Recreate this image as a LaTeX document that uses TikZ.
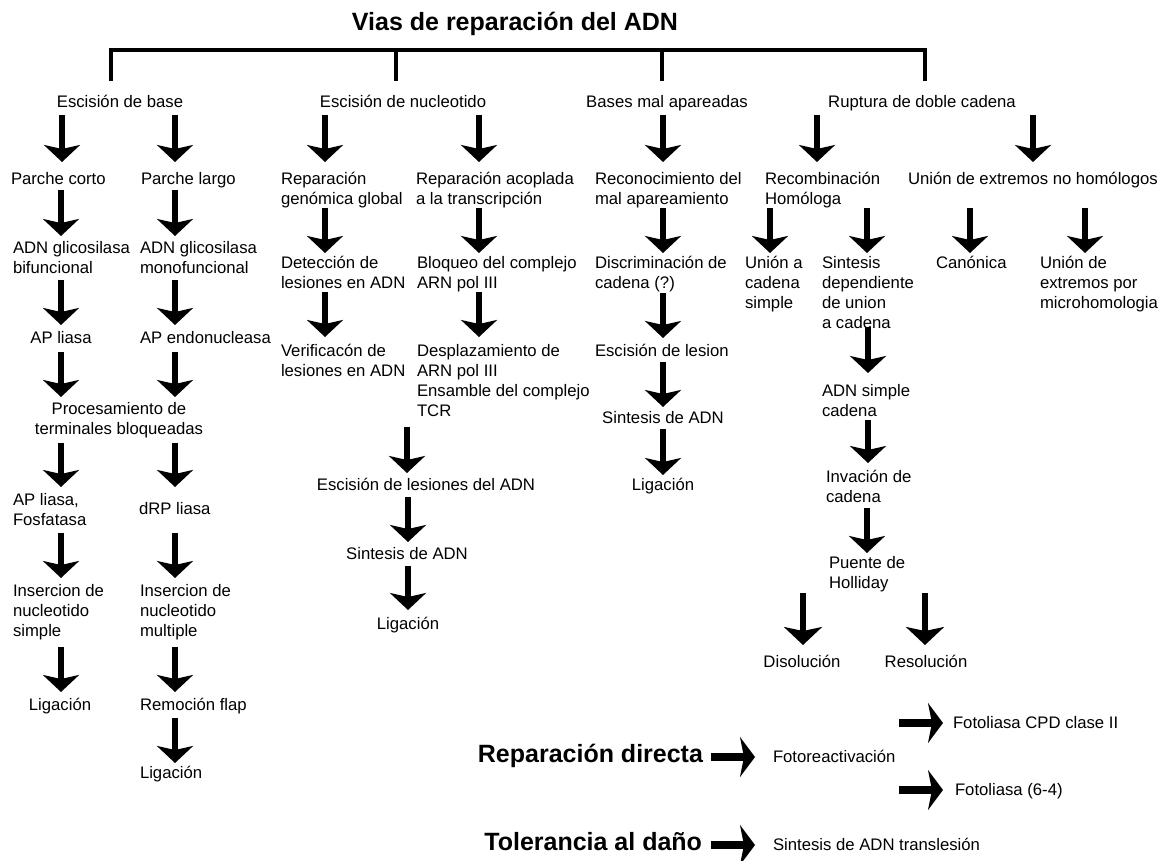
\documentclass[tikz,border=0pt]{standalone}
\usepackage{fontspec}
\setmainfont{Liberation Sans}
\usetikzlibrary{arrows.meta}
\newcommand\fsz{\fontsize{16.7}{20}\selectfont}
\newcommand\st{\rule{0pt}{12pt}}
\tikzset{
  txt/.style={inner sep=0pt, outer sep=0pt, font=\fsz, align=left, anchor=north west},
  ctxt/.style={txt, align=center, anchor=north},
  big/.style={inner sep=0pt, outer sep=0pt, font=\fontsize{25}{30}\selectfont\bfseries},
  darr/.style={line width=5.5pt, -{Stealth[length=17pt,width=36pt,inset=4pt]}},
  darrL/.style={line width=6pt, -{Stealth[length=18pt,width=38pt,inset=4pt]}},
  harr/.style={line width=8pt, -{Stealth[length=15pt,width=40pt,inset=4pt]}},
  brk/.style={line width=4.5pt},
}
\begin{document}
\begin{tikzpicture}[x=1pt,y=-1pt]
\useasboundingbox (0,0) rectangle (1167,861);
\fill[white] (0,0) rectangle (1167,861);

% title and bracket
\node[big, anchor=base] (title) at (515,31) {Vias de reparación del ADN};
\draw[brk] (111,81) -- (111,50) -- (925,50) -- (925,81);
\draw[brk] (396,50) -- (396,81);
\draw[brk] (662,50) -- (662,81);

% row 1
\node[ctxt] (eb) at (120,95) {\st Escisión de base};
\node[ctxt] (en) at (403,95) {\st Escisión de nucleotido};
\node[ctxt] (bm) at (667,95) {\st Bases mal apareadas};
\node[ctxt] (rd) at (922,95) {\st Ruptura de doble cadena};
\foreach \x in {62,175,325,479,663,817,1033} \draw[darr] (\x,115) -- (\x,162);

% row 2
\node[txt] (pc) at (11,172) {\st Parche corto};
\node[txt] (pl) at (141,172) {\st Parche largo};
\node[txt] (rgg) at (281,172) {\st Reparación\\genómica global};
\node[txt] (rat) at (416,172) {\st Reparación acoplada\\a la transcripción};
\node[txt] (rma) at (595,172) {\st Reconocimiento del\\mal apareamiento};
\node[txt] (rh) at (765,172) {\st Recombinación\\Homóloga};
\node[txt] (nh) at (908,172) {\st Unión de extremos no homólogos};
\foreach \x in {61,175} \draw[darr] (\x,190) -- (\x,236);
\foreach \x in {325,479,663,770,867,970,1085} \draw[darr] (\x,208) -- (\x,253);

% row 3
\node[txt] (ag1) at (13,241) {\st ADN glicosilasa\\bifuncional};
\node[txt] (ag2) at (140,241) {\st ADN glicosilasa\\monofuncional};
\node[txt] (dl) at (281,256) {\st Detección de\\lesiones en ADN};
\node[txt] (bc) at (417,256) {\st Bloqueo del complejo\\ARN pol III};
\node[txt] (dc) at (595,256) {\st Discriminación de\\cadena (?)};
\node[txt] (uc) at (745,256) {\st Unión a\\cadena\\simple};
\node[txt] (sd) at (822,256) {\st Sintesis\\dependiente\\de union\\a cadena};
\node[txt] (can) at (936,256) {\st Canónica};
\node[txt] (mh) at (1040,256) {\st Unión de\\extremos por\\microhomologia};
\foreach \x in {61,175} \draw[darr] (\x,280) -- (\x,325);
\foreach \x in {325,479} \draw[darr] (\x,292) -- (\x,337);
\draw[darr] (663,293) -- (663,338);
\draw[darr] (868,327) -- (868,373);

% row 4
\node[ctxt] (apl) at (61,331) {\st AP liasa};
\node[txt] (ape) at (140,331) {\st AP endonucleasa};
\node[txt] (vl) at (281,344) {\st Verificacón de\\lesiones en ADN};
\node[txt] (dp) at (417,344) {\st Desplazamiento de\\ARN pol III\\Ensamble del complejo\\TCR};
\node[txt] (el) at (595,344) {\st Escisión de lesion};
\node[txt] (asc) at (822,384) {\st ADN simple\\cadena};
\foreach \x in {61,175} \draw[darr] (\x,352) -- (\x,397);
\draw[darr] (663,362) -- (663,407);
\draw[darr] (868,420) -- (868,463);
\draw[darr] (407,427) -- (407,473);

% row 5
\node[ctxt] (ptb) at (119,402) {\st Procesamiento de\\terminales bloqueadas};
\node[ctxt] (sa1) at (663,411) {\st Sintesis de ADN};
\node[txt] (ic) at (826,470) {\st Invación de\\cadena};
\node[ctxt] (eld) at (426,478) {\st Escisión de lesiones del ADN};
\node[ctxt] (lg1) at (663,478) {\st Ligación};
\foreach \x in {61,175} \draw[darr] (\x,443) -- (\x,487);
\draw[darr] (663,429) -- (663,475);
\draw[darr] (408,497) -- (408,542);
\draw[darr] (867,508) -- (867,553);

% row 6
\node[txt] (alf) at (13,493) {\st AP liasa,\\Fosfatasa};
\node[txt] (drp) at (139,502) {\st dRP liasa};
\node[ctxt] (sa2) at (407,547) {\st Sintesis de ADN};
\node[txt] (ph) at (829,556) {\st Puente de\\Holliday};
\foreach \x in {61,175} \draw[darr] (\x,533) -- (\x,578);
\draw[darr] (408,566) -- (408,610);
\foreach \x in {803,925} \draw[darrL] (\x,593) -- (\x,645);

% row 7
\node[txt] (ins) at (13,584) {\st Insercion de\\nucleotido\\simple};
\node[txt] (inm) at (140,584) {\st Insercion de\\nucleotido\\multiple};
\node[ctxt] (lg2) at (408,617) {\st Ligación};
\node[ctxt] (dis) at (802,655) {\st Disolución};
\node[ctxt] (res) at (926,655) {\st Resolución};
\foreach \x in {61,175} \draw[darr] (\x,647) -- (\x,692);

% row 8
\node[ctxt] (lg3) at (60,698) {\st Ligación};
\node[txt] (rf) at (140,698) {\st Remoción flap};
\draw[darr] (175,718) -- (175,763);
\node[txt] (lg4) at (140,766) {\st Ligación};

% direct repair and tolerance
\node[big, anchor=base east] (rdir) at (703,762) {Reparación directa};
\node[txt] (foto) at (773,750) {\st Fotoreactivación};
\draw[harr] (711,757) -- (755,757);
\node[txt] (fcpd) at (953,716) {\st Fotoliasa CPD clase II};
\draw[harr] (899,723) -- (943,723);
\node[txt] (f64) at (955,783) {\st Fotoliasa (6-4)};
\draw[harr] (899,790) -- (943,790);
\node[big, anchor=base east] (tol) at (702,850) {Tolerancia al daño};
\node[txt] (sat) at (773,838) {\st Sintesis de ADN translesión};
\draw[harr] (711,845) -- (755,845);
\end{tikzpicture}
\end{document}
